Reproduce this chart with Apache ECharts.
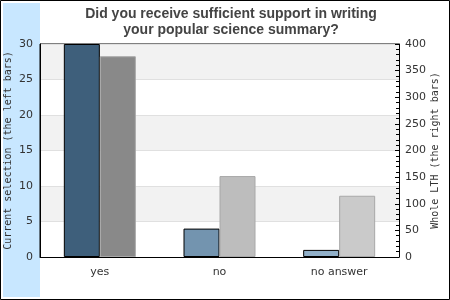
<!DOCTYPE html>
<html><head><meta charset="utf-8">
<script src="https://cdn.jsdelivr.net/npm/echarts@6/dist/echarts.min.js"></script>
<style>html,body{margin:0;padding:0;background:#fff}#c{width:450px;height:300px}</style>
</head><body><div id="c"></div>
<script>
const categories = ['yes', 'no', 'no answer'];
const currentSelection = [30, 4, 1];
const wholeLTH = [377, 152, 115];
const leftTicks = [0, 5, 10, 15, 20, 25, 30];
const rightTicks = [0, 50, 100, 150, 200, 250, 300, 350, 400];
const leftColors = ['#3e5f7b', '#7394af', '#91b0c9'];
const rightColors = ['#898989', '#bdbdbd', '#cacaca'];

const chart = echarts.init(document.getElementById('c'), null, {renderer: 'canvas'});
chart.setOption({
  animation: false,
  backgroundColor: '#fff',
  title: {
    text: 'Did you receive sufficient support in writing\nyour popular science summary?',
    left: 226, top: 1, textAlign: 'center',
    textStyle: {fontFamily: 'Liberation Sans', fontWeight: 'bold', fontSize: 14, color: '#444', lineHeight: 16}
  },
  graphic: [
    {type: 'rect', shape: {x: 3, y: 3, width: 37, height: 294}, style: {fill: '#c8e7ff'}, z: -10},
    {type: 'rect', shape: {x: 0.5, y: 0.5, width: 449, height: 299}, style: {fill: 'none', stroke: '#000', lineWidth: 1}, z: 10}
  ],
  grid: {left: 40, right: 51, top: 44, bottom: 43, outerBoundsMode: 'none', containLabel: false,
    show: true, borderColor: '#000', borderWidth: 1, backgroundColor: 'transparent'},
  xAxis: {
    type: 'category', data: categories,
    axisLine: {show: true, lineStyle: {color: '#000'}},
    axisTick: {show: false},
    axisLabel: {fontFamily: 'DejaVu Sans', fontSize: 11, color: '#333', margin: 10}
  },
  yAxis: [
    {
      type: 'value', min: leftTicks[0], max: leftTicks[leftTicks.length - 1], interval: 5, position: 'left',
      name: 'Current selection (the left bars)', nameLocation: 'middle', nameGap: 27, nameRotate: 90, nameMoveOverlap: false,
      nameTextStyle: {fontFamily: 'DejaVu Sans Mono', fontSize: 10, color: '#333'},
      axisLine: {show: true, lineStyle: {color: '#000'}},
      axisTick: {show: false},
      axisLabel: {fontFamily: 'DejaVu Sans', fontSize: 11, color: '#333', margin: 7},
      splitLine: {show: true, lineStyle: {color: '#e0e0e0'}},
      splitArea: {show: true, areaStyle: {color: ['#ffffff', '#f2f2f2']}}
    },
    {
      type: 'value', min: rightTicks[0], max: rightTicks[rightTicks.length - 1], interval: 50, position: 'right',
      name: 'Whole LTH (the right bars)', nameLocation: 'middle', nameGap: 31, nameRotate: 90, nameMoveOverlap: false,
      nameTextStyle: {fontFamily: 'DejaVu Sans Mono', fontSize: 10, color: '#333'},
      axisLine: {show: true, lineStyle: {color: '#000'}},
      axisTick: {show: true, inside: true, length: 4, lineStyle: {color: '#000'}},
      minorTick: {show: true, splitNumber: 5, length: 3, lineStyle: {color: '#000'}},
      axisLabel: {fontFamily: 'DejaVu Sans', fontSize: 11, color: '#333', margin: 6},
      splitLine: {show: false}
    }
  ],
  series: [
    {
      type: 'bar', yAxisIndex: 0, barWidth: 36, barGap: '0%',
      data: currentSelection.map((v, i) => ({value: v, itemStyle: {color: leftColors[i]}})),
      itemStyle: {borderColor: '#000', borderWidth: 1}
    },
    {
      type: 'bar', yAxisIndex: 1, barWidth: 36, barGap: '0%',
      data: wholeLTH.map((v, i) => ({value: v, itemStyle: {color: rightColors[i]}})),
      itemStyle: {borderColor: '#a8a8a8', borderWidth: 1}
    }
  ]
});
</script></body></html>
